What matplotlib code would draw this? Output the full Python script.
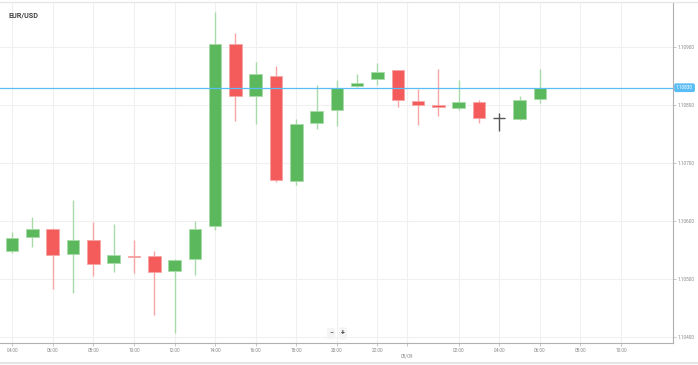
import matplotlib.pyplot as plt
from matplotlib.lines import Line2D

plt.rcParams['font.family'] = ['Roboto', 'DejaVu Sans']

# hourly EUR/USD candles, 04:00 -> 06:00 next day
HOURS = ["04:00", "05:00", "06:00", "07:00", "08:00", "09:00", "10:00", "11:00",
         "12:00", "13:00", "14:00", "15:00", "16:00", "17:00", "18:00", "19:00",
         "20:00", "21:00", "22:00", "23:00", "00:00", "01:00", "02:00", "03:00",
         "04:00", "05:00", "06:00"]
OPEN = [1.10548, 1.10572, 1.10587, 1.10543, 1.10568, 1.10528, 1.10540, 1.10540,
        1.10514, 1.10534, 1.10591, 1.10906, 1.10816, 1.10850, 1.10669, 1.10769,
        1.10791, 1.10833, 1.10845, 1.10860, 1.10807, 1.10800, 1.10795, 1.10806,
        1.10778, 1.10776, 1.10810]
HIGH = [1.10581, 1.10608, 1.10589, 1.10637, 1.10598, 1.10595, 1.10567, 1.10548,
        1.10535, 1.10600, 1.10960, 1.10925, 1.10875, 1.10868, 1.10776, 1.10834,
        1.10844, 1.10853, 1.10872, 1.10861, 1.10827, 1.10862, 1.10843, 1.10808,
        1.10787, 1.10816, 1.10862]
LOW = [1.10545, 1.10555, 1.10483, 1.10477, 1.10506, 1.10512, 1.10510, 1.10438,
       1.10408, 1.10508, 1.10585, 1.10773, 1.10767, 1.10668, 1.10662, 1.10759,
       1.10764, 1.10832, 1.10835, 1.10797, 1.10765, 1.10782, 1.10791, 1.10770,
       1.10756, 1.10774, 1.10804]
CLOSE = [1.10571, 1.10587, 1.10542, 1.10568, 1.10526, 1.10541, 1.10538, 1.10512,
         1.10533, 1.10587, 1.10905, 1.10816, 1.10853, 1.10671, 1.10768, 1.10790,
         1.10830, 1.10838, 1.10857, 1.10808, 1.10800, 1.10797, 1.10806, 1.10777,
         1.10778, 1.10809, 1.10830]
LAST_PRICE = 1.10830
Y_TICKS = [1.104, 1.105, 1.106, 1.107, 1.108, 1.109]
X_TICK_LABELS = ["04:00", "06:00", "08:00", "10:00", "12:00", "14:00", "16:00",
                 "18:00", "20:00", "22:00", "02:00", "04:00", "06:00", "08:00", "10:00"]
X_TICK_POS = [0, 2, 4, 6, 8, 10, 12, 14, 16, 18, 22, 24, 26, 28, 30]
DATE_POS = 19.46
DATE_LABEL = "05/09"

UP = '#5cb85c'
UP_WICK = '#a9dba9'
DOWN = '#f45b5b'
DOWN_WICK = '#f7a5a5'
DOJI = '#555555'
BLUE = '#5bbdf5'
GRID = '#f0f0f0'
AXIS = '#b0b0b0'
TEXT = '#888888'

fig = plt.figure(figsize=(6.98, 3.65), dpi=100)
ax = fig.add_axes([0 / 698, 22 / 365, 673 / 698, 340 / 365])

x = list(range(len(HOURS)))
for i in x:
    o, h, l, c = OPEN[i], HIGH[i], LOW[i], CLOSE[i]
    if c > o:
        body, wick = UP, UP_WICK
    elif c < o:
        body, wick = DOWN, DOWN_WICK
    else:
        body, wick = DOJI, DOJI
    ax.vlines(i, l, h, color=wick, linewidth=1.0, zorder=2)
    if c == o:
        ax.hlines(c, i - 0.3, i + 0.3, color=body, linewidth=1.0, zorder=3)
    else:
        ax.bar(i, abs(c - o), bottom=min(o, c), width=0.62, color=body,
               edgecolor=wick, linewidth=0.6, zorder=3)

ax.axhline(LAST_PRICE, color=BLUE, linewidth=0.9, zorder=4)

ax.set_xlim(-0.6, 32.56)
ax.set_ylim(1.10390, 1.10976)

ax.set_xticks(X_TICK_POS + [DATE_POS])
ax.set_xticklabels(X_TICK_LABELS + ["\n" + DATE_LABEL], fontsize=3.4, color=TEXT)
ax.set_yticks(Y_TICKS)
ax.set_yticklabels([f"{v:.5f}" for v in Y_TICKS], fontsize=3.4, color=TEXT)
ax.yaxis.tick_right()
ax.tick_params(axis='both', length=2, width=0.5, color=AXIS, pad=1.5)
ax.grid(True, color=GRID, linewidth=0.8, zorder=0)
ax.set_axisbelow(True)

for side in ['left', 'top']:
    ax.spines[side].set_visible(False)
for side in ['right', 'bottom']:
    ax.spines[side].set_color(AXIS)
    ax.spines[side].set_linewidth(0.8)

# price label on the axis
ax.text(1.0045, LAST_PRICE, f"{LAST_PRICE:.5f}", transform=ax.get_yaxis_transform(),
        fontsize=3.4, color='white', va='center', ha='left',
        bbox=dict(boxstyle='round,pad=0.25', facecolor=BLUE, edgecolor=BLUE))

ax.text(0.012, 0.975, "EUR/USD", transform=ax.transAxes, fontsize=5.2,
        fontweight='bold', color='#444444', va='top', ha='left')

# zoom buttons
ax.text(331 / 673, 0.028, "\u2212", transform=ax.transAxes, fontsize=5, color='#444444',
        ha='center', va='center',
        bbox=dict(boxstyle='round,pad=0.2', facecolor='#f4f4f4', edgecolor='#f4f4f4'))
ax.text(343 / 673, 0.028, "+", transform=ax.transAxes, fontsize=5, color='#444444',
        ha='center', va='center', fontweight='bold',
        bbox=dict(boxstyle='round,pad=0.2', facecolor='#f4f4f4', edgecolor='#f4f4f4'))

fig.add_artist(Line2D([0, 1], [1 - 1.5 / 365, 1 - 1.5 / 365], color='#e6e6e6', linewidth=1.0))
fig.add_artist(Line2D([0, 1], [2.5 / 365, 2.5 / 365], color='#e6e6e6', linewidth=1.5))

fig.savefig("out.png", dpi=100)
